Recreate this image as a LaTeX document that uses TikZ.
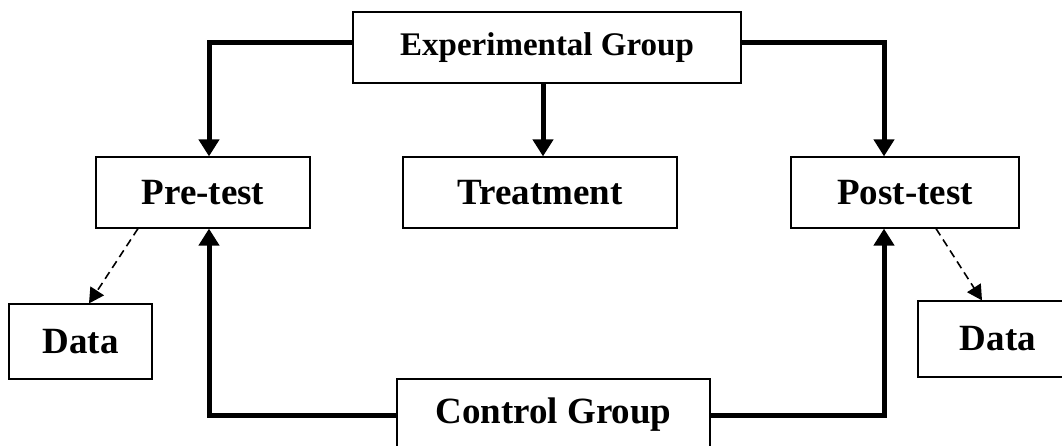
\documentclass[tikz,border=0pt]{standalone}
\usepackage{fontspec}
\setmainfont{Liberation Serif}
\usetikzlibrary{arrows.meta}
\begin{document}
\begin{tikzpicture}[x=1pt,y=-1pt,
  box/.style={draw,line width=1.2pt,inner sep=0pt,font=\bfseries\fontsize{37}{40}\selectfont},
  thickline/.style={line width=5pt},
  thickarrow/.style={thickline,-{Triangle[width=20pt,length=17pt]}},
  dasharrow/.style={line width=1.6pt,dash pattern=on 8pt off 5pt,-{Triangle[width=16pt,length=15pt]}}]
\useasboundingbox[fill=white] (0,0) rectangle (1062,446);
\node[box,minimum width=388pt,minimum height=71pt,font=\bfseries\fontsize{33}{36}\selectfont] (exp) at (547,47.5) {Experimental Group};
\node[box,minimum width=214pt,minimum height=71pt] (pre) at (203,192.5) {Pre-test};
\node[box,minimum width=274pt,minimum height=71pt] (treat) at (540,192.5) {Treatment};
\node[box,minimum width=228pt,minimum height=71pt] (post) at (905,192.5) {Post-test};
\node[box,minimum width=143pt,minimum height=75pt] (datal) at (80.5,341.5) {Data};
\node[box,minimum width=160pt,minimum height=76pt] (datar) at (998,339) {Data};
\node[box,minimum width=313pt,minimum height=72pt] (ctrl) at (553.5,415) {Control Group};
\draw[thickarrow] ([yshift=4.5pt]exp.west) -| ([xshift=6pt]pre.north);
\draw[thickarrow] ([yshift=4.5pt]exp.east) -| ([xshift=-21pt]post.north);
\draw[thickarrow] ([xshift=3pt]treat.north |- exp.south) -- ([xshift=3pt]treat.north);
\draw[thickarrow] (ctrl.west) -| ([xshift=6pt]pre.south);
\draw[thickarrow] (ctrl.east) -| ([xshift=-21pt]post.south);
\draw[dasharrow] ([xshift=-65pt]pre.south) -- ([xshift=8.5pt]datal.north);
\draw[dasharrow] ([xshift=31pt]post.south) -- ([xshift=-16pt]datar.north);
\end{tikzpicture}
\end{document}
